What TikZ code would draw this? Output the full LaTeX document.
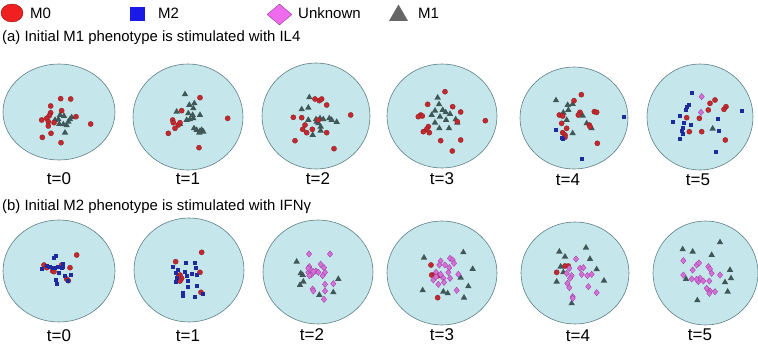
\documentclass[tikz,border=0pt]{standalone}
\usepackage{fontspec}
\setmainfont{Liberation Sans}
\usetikzlibrary{shapes.geometric}
\definecolor{panelfill}{HTML}{C5E6EB}
\definecolor{paneledge}{HTML}{5F7F85}
\definecolor{dotred}{HTML}{C4282E}
\definecolor{dotreddark}{HTML}{8E1B1F}
\definecolor{trigrey}{HTML}{3F5757}
\definecolor{sqblue}{HTML}{1E2A9E}
\definecolor{dmag}{HTML}{D66FD6}
\definecolor{dmagdark}{HTML}{9B3DA3}
\definecolor{legred}{HTML}{F02020}
\definecolor{legblue}{HTML}{1A1AE6}
\definecolor{legmag}{HTML}{EE6BEE}
\definecolor{leggrey}{HTML}{666666}
\tikzset{
  panel/.style={ellipse, draw=paneledge, fill=panelfill, line width=0.6pt, inner sep=0pt},
  tlab/.style={font=\fontsize{17}{19}\selectfont, inner sep=0pt},
  ttl/.style={font=\fontsize{14.9}{17}\selectfont, anchor=west, inner sep=0pt},
  legtxt/.style={font=\fontsize{15}{17}\selectfont, anchor=west, inner sep=0pt},
  mzero/.style={circle, fill=dotred, draw=dotreddark, line width=0.3pt, inner sep=0pt, minimum size=5.2pt},
  mone/.style={regular polygon, regular polygon sides=3, fill=trigrey, inner sep=0pt, minimum size=7.4pt},
  mtwo/.style={rectangle, fill=sqblue, inner sep=0pt, minimum size=4.2pt},
  munk/.style={diamond, fill=dmag, draw=dmagdark, line width=0.3pt, inner sep=0pt, minimum width=5.5pt, minimum height=6.5pt},
}
\begin{document}
\begin{tikzpicture}[x=1pt,y=-1pt]
\useasboundingbox (0,0) rectangle (758,345);
% legend
\node[ellipse, fill=legred, draw=legred!60!black, line width=0.4pt, minimum width=22pt, minimum height=18pt, inner sep=0pt] (lm0) at (12,13) {};
\node[legtxt] (tm0) at (30,13.5) {M0};
\node[rectangle, fill=legblue, minimum width=15pt, minimum height=14pt, inner sep=0pt] (lm2) at (137.5,14) {};
\node[legtxt] (tm2) at (158,13.5) {M2};
\node[diamond, fill=legmag, draw=legmag!60!black, line width=0.4pt, minimum width=25pt, minimum height=21pt, inner sep=0pt] (lun) at (279.5,14.5) {};
\node[legtxt] (tun) at (298,13.5) {Unknown};
\node[isosceles triangle, isosceles triangle apex angle=60, shape border rotate=90, fill=leggrey, minimum height=12pt, minimum width=19pt, inner sep=0pt] (lm1) at (398.5,15.5) {};
\node[legtxt] (tm1) at (418,13.5) {M1};
% titles
\node[ttl] (ta) at (2,38) {(a) Initial M1 phenotype is stimulated with IL4};
\node[ttl] (tb) at (2,207) {(b) Initial M2 phenotype is stimulated with IFNγ};
% panels top
\node[panel, minimum width=112pt, minimum height=96pt] (a0) at (59,112) {};
\node[panel, minimum width=110pt, minimum height=106pt] (a1) at (188,117) {};
\node[panel, minimum width=108pt, minimum height=106pt] (a2) at (316,116) {};
\node[panel, minimum width=110pt, minimum height=104pt] (a3) at (442,116) {};
\node[panel, minimum width=108pt, minimum height=102pt] (a4) at (574,118) {};
\node[panel, minimum width=106pt, minimum height=106pt] (a5) at (700,117) {};
\node[tlab] (la0) at (59,179) {t=0};
\node[tlab] (la1) at (188,179) {t=1};
\node[tlab] (la2) at (318,179) {t=2};
\node[tlab] (la3) at (442,179) {t=3};
\node[tlab] (la4) at (568,180) {t=4};
\node[tlab] (la5) at (698,180) {t=5};
% panels bottom
\node[panel, minimum width=112pt, minimum height=102pt] (b0) at (59,271) {};
\node[panel, minimum width=110pt, minimum height=104pt] (b1) at (189,270) {};
\node[panel, minimum width=110pt, minimum height=104pt] (b2) at (318,272) {};
\node[panel, minimum width=110pt, minimum height=104pt] (b3) at (442,273) {};
\node[panel, minimum width=108pt, minimum height=102pt] (b4) at (575,273) {};
\node[panel, minimum width=105pt, minimum height=104pt] (b5) at (705.5,273) {};
\node[tlab] (lb0) at (59,335.5) {t=0};
\node[tlab] (lb1) at (188,335.5) {t=1};
\node[tlab] (lb2) at (312,335) {t=2};
\node[tlab] (lb3) at (442,334.5) {t=3};
\node[tlab] (lb4) at (578,335.5) {t=4};
\node[tlab] (lb5) at (700,335) {t=5};
% ---- top row, left block (offset 0,60)
\begin{scope}[shift={(0,60)}, scale=1/3]
 % t=0
 \foreach \p in {(180,165),(192,168),(175,178),(210,178),(215,172),(205,185),(178,192),(190,193),(200,196),(195,218),(165,180)} \node[mone] at \p {};
 \foreach \p in {(182,116),(212,117),(152,138),(185,152),(152,158),(148,167),(140,175),(125,180),(145,185),(162,188),(228,170),(272,192),(145,198),(153,220),(127,232),(183,248)} \node[mzero] at \p {};
 % t=1
 \foreach \p in {(555,103),(568,135),(583,130),(580,145),(530,155),(565,160),(578,165),(600,165),(570,178),(560,180),(540,192),(582,205),(590,210),(600,213),(605,210),(610,215),(598,218),(580,175)} \node[mone] at \p {};
 \foreach \p in {(600,113),(545,152),(518,180),(520,188),(535,195),(525,205),(505,220),(683,175),(597,263),(540,188)} \node[mzero] at \p {};
\end{scope}
\begin{scope}[shift={(250,60)}, scale=1/3]
 % t=2
 \foreach \p in {(178,112),(155,148),(175,143),(175,180),(198,178),(210,175),(220,178),(238,175),(245,180),(260,186),(205,190),(212,200),(212,212),(188,225),(200,185)} \node[mone] at \p {};
 \foreach \p in {(195,117),(208,122),(215,117),(230,135),(130,172),(155,173),(302,165),(165,195),(158,208),(170,218),(187,208),(230,218),(135,242),(252,266),(205,180)} \node[mzero] at \p {};
 % t=3
 \foreach \p in {(563,113),(567,133),(555,152),(578,150),(587,157),(600,162),(570,170),(588,180),(617,178),(622,188),(555,188),(568,205),(597,205),(545,165)} \node[mone] at \p {};
 \foreach \p in {(585,95),(533,133),(608,140),(632,156),(512,165),(517,168),(505,170),(535,200),(530,208),(520,215),(538,218),(572,242),(632,240),(607,273),(706,182),(622,185)} \node[mzero] at \p {};
\end{scope}
\begin{scope}[shift={(500,60)}, scale=1/3]
 % t=4
 \foreach \p in {(168,121),(203,135),(218,132),(205,150),(190,158),(248,167),(200,180),(260,190),(275,205),(218,220)} \node[mone] at \p {};
 \foreach \p in {(244,104),(222,122),(178,165),(188,168),(240,157),(283,155),(290,157),(185,190),(188,218),(195,225),(195,232),(268,195),(270,200),(292,250),(235,165),(200,205)} \node[mzero] at \p {};
 \foreach \p in {(373,170),(167,211),(188,238),(186,234),(247,297)} \node[mtwo] at \p {};
 % t=5
 \foreach \p in {(638,206)} \node[mone] at \p {};
 \foreach \p in {(630,130),(645,120),(678,140),(672,148),(625,150),(598,175),(560,173),(568,215),(605,215),(676,240)} \node[mzero] at \p {};
 \foreach \p in {(575,99),(568,135),(562,140),(558,150),(540,168),(520,185),(552,190),(573,195),(550,205),(545,212),(548,222),(540,237),(655,178),(658,212),(725,153),(648,275)} \node[mtwo] at \p {};
 \foreach \p in {(605,110),(603,157)} \node[munk] at \p {};
\end{scope}
% ---- bottom row
\begin{scope}[shift={(0,185)}, scale=1/3]
 % t=0
 \foreach \p in {(230,210),(132,240),(140,248),(185,240),(210,248),(158,258),(162,260),(200,282),(205,287)} \node[mzero] at \p {};
 \foreach \p in {(167,213),(163,218),(140,243),(125,252),(150,245),(158,248),(165,250),(175,245),(185,250),(190,245),(178,265),(195,272),(213,270),(168,285),(172,298),(203,288),(188,238)} \node[mtwo] at \p {};
 % t=1
 \foreach \p in {(605,202),(527,230),(540,270),(545,280),(540,288),(600,262),(603,322),(535,275)} \node[mzero] at \p {};
 \foreach \p in {(518,245),(535,255),(558,235),(585,235),(587,250),(575,268),(590,270),(528,265),(530,280),(528,290),(563,288),(563,305),(592,303),(548,323),(548,333),(585,335),(610,327),(555,260),(560,272)} \node[mtwo] at \p {};
\end{scope}
\begin{scope}[shift={(250,185)}, scale=1/3]
 % t=2
 \foreach \p in {(140,230),(152,265),(158,270),(160,290),(150,300),(265,282),(208,330),(250,322)} \node[mone] at \p {};
 \foreach \p in {(177,207),(240,207),(178,245),(182,255),(175,262),(185,268),(198,258),(212,238),(222,248),(225,262),(205,262),(218,272),(178,272),(250,296),(225,298),(188,312),(190,318),(225,318),(222,343),(175,250),(190,260)} \node[munk] at \p {};
 % t=3
 \foreach \p in {(522,218),(640,202),(668,252),(632,278),(518,316),(580,320),(593,325),(655,304),(642,338)} \node[mone] at \p {};
 \foreach \p in {(543,240),(545,270),(555,268),(563,338),(565,272)} \node[mzero] at \p {};
 \foreach \p in {(572,228),(600,220),(608,225),(612,235),(568,240),(585,240),(598,248),(595,262),(558,262),(572,268),(580,280),(600,280),(625,268),(550,285),(565,298),(582,292),(620,316),(558,275)} \node[munk] at \p {};
\end{scope}
\begin{scope}[shift={(500,185)}, scale=1/3]
 % t=4
 \foreach \p in {(178,200),(195,215),(258,188),(270,222),(182,245),(190,262),(290,253),(170,290),(312,287),(215,355)} \node[mone] at \p {};
 \foreach \p in {(170,262),(195,243),(205,243)} \node[mzero] at \p {};
 \foreach \p in {(228,222),(208,250),(240,250),(250,248),(245,268),(262,272),(275,268),(215,272),(210,280),(202,295),(208,308),(265,305),(290,323),(218,335),(218,340),(200,265)} \node[munk] at \p {};
 % t=5
 \foreach \p in {(548,193),(578,200),(660,172),(635,210),(690,255),(693,280),(675,292),(558,282),(683,320),(592,346)} \node[mone] at \p {};
 \foreach \p in {(550,227),(590,240),(597,234),(578,255),(625,245),(630,252),(635,265),(550,270),(575,282),(600,280),(595,290),(610,288),(590,283),(628,288),(660,270),(620,310),(630,318),(645,320),(628,325)} \node[munk] at \p {};
\end{scope}
\end{tikzpicture}
\end{document}
